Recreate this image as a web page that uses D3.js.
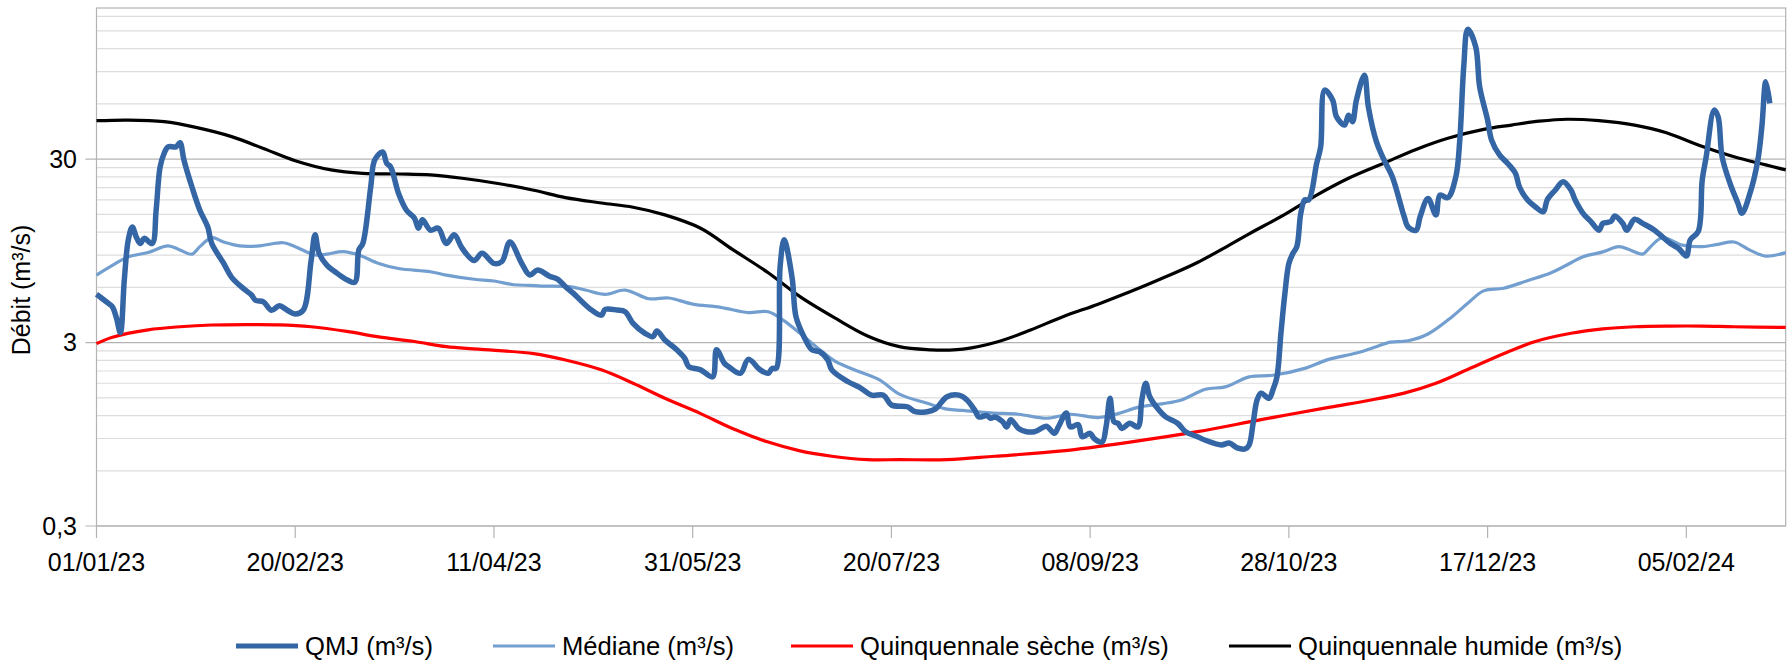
<!DOCTYPE html>
<html>
<head>
<meta charset="utf-8">
<script src="https://cdn.jsdelivr.net/npm/d3@7/dist/d3.min.js"></script>
<style>
  html, body { margin: 0; padding: 0; background: #ffffff; }
  svg { display: block; }
  text { font-family: "Liberation Sans", Arial, sans-serif; fill: #000; }
</style>
</head>
<body>
<svg id="chart" width="1789" height="660"></svg>
<script>
// ---- Data (day offsets from 01/01/2023, values in m3/s) ----
const startDate = "2023-01-01";
const endDate = "2024-03-01";

const qmjDay = [0,1,3,4,5,6,7,8,9,10,11,12,14,15,16,17,18,20,21,22,24,26,28,29,32,34,37,39,40,42,44,46,48,50,52,54,55,56,58,60,63,65,66,67,69,70,72,73,74,76,78,80,81,82,84,86,88,90,92,95,97,100,102,104,107,109,111,114,116,118,120,124,127,128,131,133,135,138,140,141,143,146,148,149,152,155,156,158,159,162,164,167,169,170,171,172,173,175,176,178,180,182,184,185,189,192,195,198,200,204,206,209,211,214,217,219,221,222,224,225,226,228,229,230,232,234,236,237,239,241,242,244,245,247,248,250,251,253,254,255,256,257,258,260,262,263,264,265,267,269,272,274,277,279,283,285,287,289,290,291,292,293,295,296,297,298,299,300,301,302,303,304,305,307,308,309,311,312,314,315,316,317,319,320,322,324,326,329,330,332,333,335,337,338,340,342,343,344,345,347,348,350,351,353,355,357,358,360,362,364,365,367,369,371,372,374,376,378,379,381,382,384,385,387,389,392,394,396,398,400,401,403,404,405,407,408,409,411,413,414,416,418,419,420,421];
const qmjValue = [5.5,5.3,4.9,4.7,4.1,3.4,6.6,10.9,12.8,11.3,10.4,11.1,10.4,15.8,27.2,32.2,35.0,35.0,36.9,29.7,21.2,15.8,12.8,10.4,8.1,6.8,5.9,5.45,5.1,5.0,4.5,4.76,4.5,4.3,4.5,8.4,11.6,9.2,7.9,7.3,6.6,6.4,9.6,10.4,21.2,29.7,32.8,28.5,27.2,19.5,15.8,14.3,12.6,14.0,12.3,12.6,10.4,11.6,9.8,8.4,9.2,8.1,8.3,10.6,8.1,7.0,7.45,6.9,6.65,6.05,5.56,4.61,4.23,4.55,4.51,4.42,3.82,3.37,3.23,3.47,3.10,2.74,2.46,2.22,2.13,1.95,2.74,2.31,2.22,2.04,2.43,2.13,2.04,2.17,2.17,7.8,10.9,6.8,4.14,3.23,2.74,2.67,2.41,2.13,1.84,1.71,1.55,1.55,1.37,1.34,1.26,1.26,1.30,1.52,1.55,1.46,1.28,1.18,1.20,1.16,1.18,1.11,1.04,1.14,1.02,0.98,0.98,1.00,1.05,0.96,1.04,1.24,1.04,1.07,0.92,0.96,0.90,0.86,1.04,1.49,1.11,1.09,1.02,1.09,1.04,1.46,1.80,1.52,1.31,1.18,1.09,0.98,0.92,0.88,0.83,0.85,0.80,0.79,0.83,1.09,1.46,1.59,1.49,1.66,1.95,3.37,5.56,8.09,9.18,10.0,15.2,18.0,18.0,28.5,35.0,71.4,63.0,51.0,46.0,52.1,48.0,63.0,86.1,57.8,37.5,29.5,24.1,14.6,12.8,12.3,14.5,18.3,14.9,19.1,18.5,24.0,38.1,96.0,153,123,74.4,49.0,38.1,31.6,28.5,25.1,21.2,18.0,16.5,15.5,18.0,20.3,22.6,20.3,18.0,15.2,13.7,12.3,13.4,13.7,14.7,13.4,12.3,14.1,13.4,12.3,11.3,10.4,9.8,8.9,10.9,12.1,23.1,30.9,55.5,51.0,30.9,22.1,17.2,15.2,19.5,29.7,45.0,79.3,60.4];

const medDay = [0,4,8,13,18,21,24,26,29,32,36,41,47,50,55,58,62,66,71,76,84,88,95,100,105,109,112,119,123,128,133,139,144,150,157,164,169,173,177,182,186,192,197,202,209,214,218,225,232,239,245,252,257,262,268,273,279,284,290,296,304,310,317,322,325,330,335,341,345,349,354,360,366,371,374,379,383,386,389,391,394,399,404,408,412,416,420,425];
const medValue = [7.0,7.9,8.8,9.3,10.1,9.6,9.1,10.0,11.2,10.6,10.1,10.1,10.5,10.0,9.0,9.1,9.4,9.0,8.1,7.6,7.3,7.0,6.64,6.5,6.2,6.15,6.1,6.05,5.8,5.5,5.8,5.2,5.25,4.86,4.67,4.37,4.42,3.94,3.37,2.74,2.36,2.08,1.88,1.57,1.40,1.30,1.28,1.24,1.22,1.16,1.22,1.17,1.23,1.33,1.39,1.46,1.67,1.72,1.95,1.99,2.17,2.43,2.63,2.85,3.0,3.07,3.34,4.14,4.91,5.74,5.93,6.52,7.21,8.17,8.81,9.37,10.0,9.57,9.11,10.0,11.2,10.2,10.0,10.3,10.6,9.57,8.88,9.28];

const dryDay = [0,4,13,21,29,38,46,54,63,71,80,88,96,110,118,127,135,143,152,160,169,177,185,194,202,214,226,243,260,277,293,310,320,329,337,345,354,362,371,379,387,396,404,412,425];
const dryValue = [2.96,3.21,3.52,3.66,3.74,3.76,3.75,3.66,3.45,3.22,3.04,2.85,2.76,2.61,2.41,2.13,1.80,1.49,1.23,1.02,0.86,0.77,0.72,0.69,0.69,0.69,0.72,0.77,0.86,0.98,1.14,1.33,1.45,1.59,1.80,2.14,2.61,3.04,3.37,3.56,3.66,3.69,3.69,3.66,3.63];

const wetDay = [0,8,17,25,34,42,50,59,67,76,84,92,101,110,118,127,135,143,152,160,169,177,186,194,202,210,214,218,227,235,243,252,260,268,277,285,290,299,307,315,324,332,340,349,356,363,370,378,387,395,403,412,420,425];
const wetValue = [48.6,49.0,48.0,44.7,39.8,34.3,29.4,26.2,25.1,24.9,24.6,23.6,22.1,20.3,18.5,17.3,16.4,14.9,12.6,9.66,7.21,5.34,4.06,3.26,2.85,2.74,2.73,2.76,3.04,3.51,4.14,4.86,5.67,6.7,8.2,10.2,11.75,15.0,19.1,23.6,28.6,33.9,39.0,43.6,46.0,48.3,49.5,48.6,46.0,41.8,35.8,30.9,27.9,26.2];

const yMajorTicks = [0.3, 3, 30];
const yTickLabels = ["0,3", "3", "30"];
const xTickLabels = ["01/01/23","20/02/23","11/04/23","31/05/23","20/07/23","08/09/23","28/10/23","17/12/23","05/02/24"];

const seriesNames = ["QMJ (m³/s)", "Médiane (m³/s)", "Quinquennale sèche (m³/s)", "Quinquennale humide (m³/s)"];
const seriesColors = ["#3465a4", "#729fcf", "#ff0000", "#000000"];
const seriesWidths = [5.5, 3.2, 3.2, 3.2];

// ---- Layout ----
const svg = d3.select("#chart");
const plot = { left: 96.5, right: 1785.7, top: 8, bottom: 526 };
const parse = d3.utcParse("%Y-%m-%d");
const t0 = parse(startDate);
const x = d3.scaleUtc().domain([t0, parse(endDate)]).range([plot.left, plot.right]);
const y = d3.scaleLog().domain([0.3, 200]).range([plot.bottom, plot.top]);
const dayDate = d => d3.utcDay.offset(t0, d);

// minor gridlines (0.3 * k steps within each decade)
const minor = [];
yMajorTicks.forEach(b => { for (let k = 2; k <= 9; k++) { const v = b * k; if (v < 200) minor.push(v); } });

const grid = svg.append("g");
grid.selectAll("line.minor").data(minor).join("line")
  .attr("x1", plot.left).attr("x2", plot.right)
  .attr("y1", d => y(d)).attr("y2", d => y(d))
  .attr("stroke", "#dddddd").attr("stroke-width", 1.2);
grid.selectAll("line.major").data(yMajorTicks).join("line")
  .attr("x1", plot.left - 11).attr("x2", plot.right)
  .attr("y1", d => y(d)).attr("y2", d => y(d))
  .attr("stroke", "#b3b3b3").attr("stroke-width", 1.2);

// plot border
svg.append("rect")
  .attr("x", plot.left).attr("y", plot.top)
  .attr("width", plot.right - plot.left).attr("height", plot.bottom - plot.top)
  .attr("fill", "none").attr("stroke", "#b3b3b3").attr("stroke-width", 1.2);

// x axis ticks
const xTickDates = xTickLabels.map(s => d3.utcParse("%d/%m/%y")(s));
const xAxis = svg.append("g");
xAxis.selectAll("line").data(xTickDates).join("line")
  .attr("x1", d => x(d)).attr("x2", d => x(d))
  .attr("y1", plot.bottom).attr("y2", plot.bottom + 12)
  .attr("stroke", "#b3b3b3").attr("stroke-width", 1.2);
xAxis.selectAll("text").data(xTickDates).join("text")
  .attr("x", d => x(d)).attr("y", 571)
  .attr("text-anchor", "middle").attr("font-size", 25)
  .text((d, i) => xTickLabels[i]);

// y tick labels
svg.append("g").selectAll("text").data(yMajorTicks).join("text")
  .attr("x", 77).attr("y", d => y(d)).attr("dy", "0.35em")
  .attr("text-anchor", "end").attr("font-size", 25)
  .text((d, i) => yTickLabels[i]);

// y axis title
svg.append("text")
  .attr("transform", "translate(30,290) rotate(-90)")
  .attr("text-anchor", "middle").attr("font-size", 25)
  .text("Débit (m³/s)");

// lines
const makeLine = curve => d3.line()
  .x(d => x(dayDate(d[0])))
  .y(d => y(d[1]))
  .curve(curve);
const smooth = makeLine(d3.curveCatmullRom.alpha(0.5));

const series = [
  d3.zip(qmjDay, qmjValue),
  d3.zip(medDay, medValue),
  d3.zip(dryDay, dryValue),
  d3.zip(wetDay, wetValue)
];
const drawOrder = [3, 2, 1, 0];
const lines = svg.append("g");
drawOrder.forEach(i => {
  lines.append("path")
    .attr("d", smooth(series[i]))
    .attr("fill", "none")
    .attr("stroke", seriesColors[i])
    .attr("stroke-width", seriesWidths[i])
    .attr("stroke-linejoin", "round")
    .attr("stroke-linecap", "butt");
});

// legend
const legendX = [236, 493, 791, 1229];
const lg = svg.append("g");
seriesNames.forEach((name, i) => {
  lg.append("line")
    .attr("x1", legendX[i]).attr("x2", legendX[i] + 62)
    .attr("y1", 646).attr("y2", 646)
    .attr("stroke", seriesColors[i]).attr("stroke-width", i === 0 ? 5 : 3);
  lg.append("text")
    .attr("x", legendX[i] + 69).attr("y", 655)
    .attr("font-size", 25.6)
    .text(name);
});
</script>
</body>
</html>
